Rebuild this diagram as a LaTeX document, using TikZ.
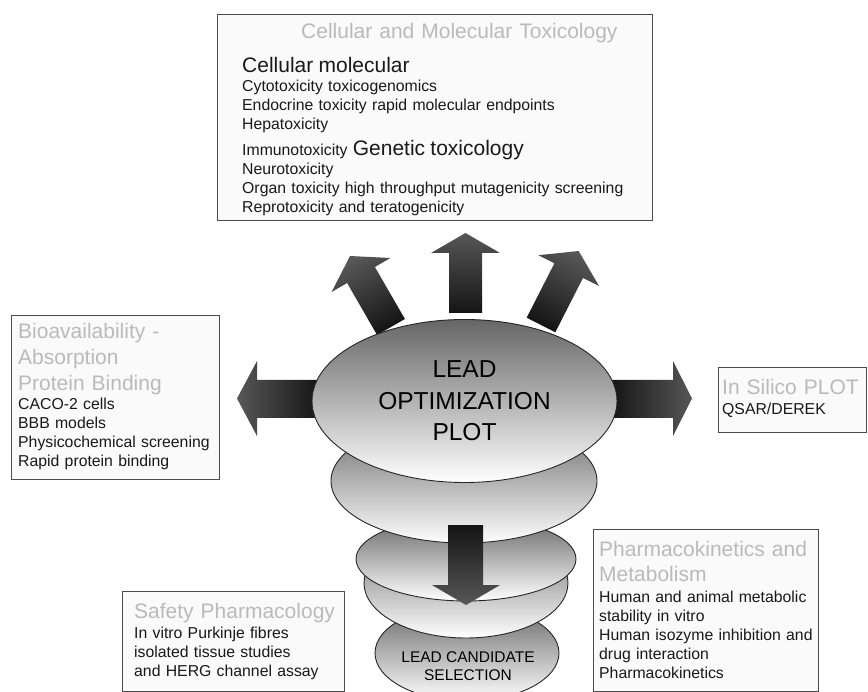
\documentclass[tikz,border=0pt]{standalone}
\usepackage{fontspec}
\setmainfont{Liberation Sans}
\usetikzlibrary{shapes.geometric}
\newcommand{\bigtxt}{\fontsize{21}{19}\selectfont}

\begin{document}
\begin{tikzpicture}[x=1pt,y=-1pt]
\tikzstyle{panel} = [draw=black!70, line width=1.4pt, fill=black!2, inner sep=0pt, anchor=north west]
\tikzstyle{heading} = [anchor=base west, inner sep=0pt, align=left, text width=320pt, text=black!27, font=\fontsize{21}{25.7}\selectfont]
\tikzstyle{entry} = [anchor=base west, inner sep=0pt, align=left, text width=430pt, text=black!90, font=\fontsize{15.8}{19}\selectfont]
\tikzstyle{disc} = [shape=ellipse, draw=black!85, line width=0.9pt, top color=black!60, bottom color=white, inner sep=0pt]
\tikzstyle{burst} = [top color=black!66, bottom color=black!92]

\useasboundingbox (0,0) rectangle (868,692);

% boxes
\node[panel, minimum width=435pt, minimum height=206pt] (celltox) at (217,14) {};
\node[panel, minimum width=208pt, minimum height=164pt] (bioav) at (11,315) {};
\node[panel, minimum width=148pt, minimum height=65pt] (insilico) at (718,367) {};
\node[panel, minimum width=222pt, minimum height=100pt] (safety) at (122,591) {};
\node[panel, minimum width=225pt, minimum height=162pt] (pkmet) at (593,529) {};

% arrows out of the plot
\shade[burst] (449,313) -- (449,253) -- (431,253) -- (465.5,233) -- (500,253) -- (482,253) -- (482,313) -- cycle;
\shade[burst, shading angle=30] (404.9,319) -- (374.9,267) -- (390.4,258) -- (350,256) -- (331.6,292) -- (347.1,283) -- (377.1,335) -- cycle;
\shade[burst, shading angle=-27] (526.7,317.7) -- (554.4,263.3) -- (538.4,255.2) -- (578.7,251) -- (599,286) -- (583,277.9) -- (555.3,332.3) -- cycle;
\shade[burst, shading angle=90] (320,380) -- (257,380) -- (257,361) -- (237,398.5) -- (257,436) -- (257,418) -- (320,418) -- cycle;
\shade[burst, shading angle=-90] (610,380) -- (673,380) -- (673,361) -- (692,398.5) -- (673,436) -- (673,418) -- (610,418) -- cycle;

% stack of plates
\node[disc, minimum width=184pt, minimum height=96pt] (lcs) at (467,653) {};
\node[disc, minimum width=204pt, minimum height=110pt] (plate4) at (466,583) {};
\node[disc, minimum width=220pt, minimum height=84pt] (plate3) at (466,559) {};
\node[disc, minimum width=266pt, minimum height=124pt] (plate2) at (464,481) {};
\node[disc, minimum width=305pt, minimum height=163pt, align=center, font=\fontsize{24.5}{31.5}\selectfont] (lop) at (464.5,401) {LEAD\\OPTIMIZATION\\PLOT};

\shade[burst, shading angle=180] (448,525) -- (483,525) -- (483,585) -- (500,585) -- (466,605) -- (432,585) -- (448,585) -- cycle;

\node[align=center, inner sep=0pt, font=\fontsize{15.5}{18}\selectfont] (lcs-text) at (468,666.5) {LEAD CANDIDATE\\SELECTION};

% box texts
\node[heading] (celltox-title) at (301,39) {Cellular and Molecular Toxicology};
\node[entry] (celltox-list) at (242,73) {{\bigtxt Cellular molecular}\\
Cytotoxicity toxicogenomics\\
Endocrine toxicity rapid molecular endpoints\\
Hepatoxicity\\[7pt]
Immunotoxicity {\bigtxt Genetic toxicology}\\
Neurotoxicity\\
Organ toxicity high throughput mutagenicity screening\\
Reprotoxicity and teratogenicity};

\node[heading] (bioav-title) at (18,339) {Bioavailability -\\Absorption\\Protein Binding};
\node[entry] (bioav-list) at (18,410) {CACO-2 cells\\BBB models\\Physicochemical screening\\Rapid protein binding};

\node[heading] (insilico-title) at (722,395) {In Silico PLOT};
\node[entry] (insilico-list) at (722,415) {QSAR/DEREK};

\node[heading] (safety-title) at (134,618) {Safety Pharmacology};
\node[entry] (safety-list) at (134,638) {In vitro Purkinje fibres\\isolated tissue studies\\and HERG channel assay};

\node[heading] (pkmet-title) at (599,556) {Pharmacokinetics and\\Metabolism};
\node[entry] (pkmet-list) at (599,602) {Human and animal metabolic\\stability in vitro\\Human isozyme inhibition and\\drug interaction\\Pharmacokinetics};

\end{tikzpicture}
\end{document}
